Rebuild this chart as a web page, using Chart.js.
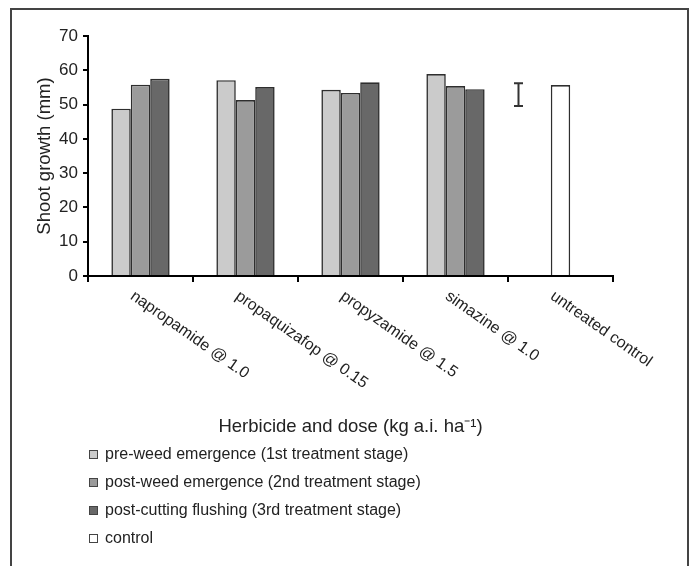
<!DOCTYPE html>
<html>
<head>
<meta charset="utf-8">
<script src="https://cdn.jsdelivr.net/npm/chart.js@4"></script>
<style>
  body { margin: 0; background: #fff; overflow: hidden; font-family: "Liberation Sans", Arial, sans-serif; }
  #wrap { position: relative; width: 691px; height: 566px; overflow: hidden; }
  #frame { position: absolute; left: 10px; top: 8px; width: 679px; height: 620px; border: 2px solid #444; box-sizing: border-box; }
  #chart { position: absolute; left: 0; top: 0; }
  #legend { position: absolute; left: 89px; top: 440px; color: #222; font-size: 16px; }
  .item { height: 28px; line-height: 28px; display: flex; align-items: center; }
  .box { width: 7px; height: 7px; border: 1.5px solid #444; margin-right: 7px; }
</style>
</head>
<body>
<div id="wrap">
  <div id="frame"></div>
  <canvas id="chart" width="691" height="566"></canvas>
  <div id="legend"></div>
</div>
<script>
// Herbicide treatments on the x axis
const categories = ['napropamide @ 1.0', 'propaquizafop @ 0.15', 'propyzamide @ 1.5', 'simazine @ 1.0', 'untreated control'];

// Shoot growth (mm) per treatment stage
const preWeed = [48.8, 57.1, 54.3, 58.9, null];
const postWeed = [55.8, 51.3, 53.4, 55.4, null];
const postCutting = [57.5, 55.1, 56.5, 54.5, null];
const controlValues = [null, null, null, null, 55.7];

// LSD bar (low, high)
const lsdBar = [49.6, 56.2];

// y axis
const yMax = 70;
const yStep = 10;

const fontFamily = '"Liberation Sans", Arial, sans-serif';
Chart.defaults.font.family = fontFamily;
Chart.defaults.color = '#222';

// Draws the slanted category labels and the LSD bar
const extras = {
    id: 'extras',
    afterDraw(chart) {
        const { ctx, scales: { x, y } } = chart;
        ctx.save();
        ctx.font = '16px ' + fontFamily;
        ctx.fillStyle = '#222';
        ctx.textAlign = 'left';
        ctx.textBaseline = 'top';
        categories.forEach((label, i) => {
            ctx.save();
            ctx.translate(x.getPixelForValue(i) - 4, y.bottom + 12);
            ctx.rotate(35 * Math.PI / 180);
            ctx.fillText(label, 0, 0);
            ctx.restore();
        });

        const step = x.getPixelForValue(1) - x.getPixelForValue(0);
        const ex = Math.round(x.getPixelForValue(categories.length - 1) - step * 0.405) + 0.5;
        const top = y.getPixelForValue(lsdBar[1]);
        const bottom = y.getPixelForValue(lsdBar[0]);
        ctx.strokeStyle = '#333';
        ctx.lineWidth = 2;
        ctx.beginPath();
        ctx.moveTo(ex, top);
        ctx.lineTo(ex, bottom);
        ctx.moveTo(ex - 4.5, top);
        ctx.lineTo(ex + 4.5, top);
        ctx.moveTo(ex - 4.5, bottom);
        ctx.lineTo(ex + 4.5, bottom);
        ctx.stroke();
        ctx.restore();
    }
};

const chart = new Chart(document.getElementById('chart'), {
    type: 'bar',
    data: {
        labels: categories,
        datasets: [
            {
                label: 'pre-weed emergence (1st treatment stage)',
                data: preWeed,
                backgroundColor: '#cbcbcb'
            },
            {
                label: 'post-weed emergence (2nd treatment stage)',
                data: postWeed,
                backgroundColor: '#9b9b9b'
            },
            {
                label: 'post-cutting flushing (3rd treatment stage)',
                data: postCutting,
                backgroundColor: '#686868'
            },
            {
                label: 'control',
                data: controlValues,
                backgroundColor: '#ffffff',
                barPercentage: 1 / 3
            }
        ]
    },
    options: {
        responsive: false,
        animation: false,
        skipNull: true,
        datasets: {
            bar: {
                categoryPercentage: 0.555,
                barPercentage: 1,
                borderColor: '#2e2e2e',
                borderWidth: 1.6
            }
        },
        layout: {
            padding: { top: 36, right: 78, bottom: 120, left: 0 }
        },
        plugins: {
            legend: { display: false },
            tooltip: { enabled: false }
        },
        scales: {
            x: {
                afterFit(scale) { scale.height = 170; },
                grid: {
                    offset: true,
                    drawOnChartArea: false,
                    color: '#000',
                    lineWidth: 2,
                    tickLength: 6
                },
                border: { color: '#000', width: 2 },
                ticks: { display: false },
                title: {
                    display: true,
                    text: 'Herbicide and dose (kg a.i. ha\u207B\u00B9)',
                    font: { size: 18.5 },
                    color: '#222',
                    padding: { top: 0, bottom: 8 }
                }
            },
            y: {
                min: 0,
                max: yMax,
                afterFit(scale) { scale.width = 88; },
                grid: {
                    drawOnChartArea: false,
                    color: '#000',
                    lineWidth: 2,
                    tickLength: 5
                },
                border: { color: '#000', width: 2 },
                ticks: {
                    stepSize: yStep,
                    padding: 5,
                    font: { size: 17 },
                    color: '#222'
                },
                title: {
                    display: true,
                    text: 'Shoot growth (mm)',
                    font: { size: 18.5 },
                    color: '#222',
                    padding: { top: 34, bottom: 0 }
                }
            }
        }
    },
    plugins: [extras]
});

// HTML legend built from the datasets
const legend = document.getElementById('legend');
chart.data.datasets.forEach(ds => {
    const item = document.createElement('div');
    item.className = 'item';
    item.innerHTML = `<span class="box" style="background:${ds.backgroundColor}"></span><span>${ds.label}</span>`;
    legend.appendChild(item);
});
</script>
</body>
</html>
